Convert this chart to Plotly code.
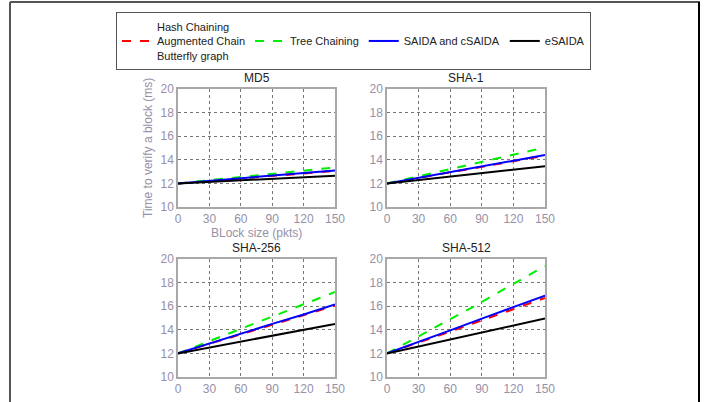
import plotly.graph_objects as go

W, H = 717, 402

block_sizes = [0, 30, 60, 90, 120, 150]
panel_titles = ["MD5", "SHA-1", "SHA-256", "SHA-512"]
series_names = ["Hash Chaining<br>Augmented Chain<br>Butterfly graph", "Tree Chaining",
                "SAIDA and cSAIDA", "eSAIDA"]

md5_hash = [12, 12.2, 12.4, 12.62, 12.83, 13.05]
md5_tree = [12, 12.27, 12.55, 12.8, 13.08, 13.35]
md5_saida = [12, 12.22, 12.44, 12.66, 12.88, 13.1]
md5_esaida = [12, 12.13, 12.26, 12.4, 12.52, 12.65]

sha1_hash = [12, 12.45, 12.93, 13.4, 13.88, 14.35]
sha1_tree = [12, 12.6, 13.2, 13.85, 14.45, 15.05]
sha1_saida = [12, 12.48, 12.96, 13.44, 13.92, 14.4]
sha1_esaida = [12, 12.3, 12.6, 12.88, 13.16, 13.45]

sha256_hash = [12, 12.8, 13.6, 14.45, 15.25, 16.05]
sha256_tree = [12, 13.05, 14.1, 15.1, 16.15, 17.2]
sha256_saida = [12, 12.85, 13.65, 14.5, 15.3, 16.15]
sha256_esaida = [12, 12.5, 13.0, 13.5, 14.0, 14.5]

sha512_hash = [12, 12.9, 13.85, 14.8, 15.75, 16.7]
sha512_tree = [12, 13.45, 14.9, 16.35, 17.9, 19.4]
sha512_saida = [12, 12.95, 13.95, 14.95, 15.9, 16.9]
sha512_esaida = [12, 12.6, 13.2, 13.8, 14.35, 14.95]

panels = [
    [md5_hash, md5_tree, md5_saida, md5_esaida],
    [sha1_hash, sha1_tree, sha1_saida, sha1_esaida],
    [sha256_hash, sha256_tree, sha256_saida, sha256_esaida],
    [sha512_hash, sha512_tree, sha512_saida, sha512_esaida],
]

colors = ["#ff0000", "#00ee00", "#0000ff", "#000000"]
dashes = ["dash", "dash", "solid", "solid"]

# pixel boxes of the four axes (left, right, top, bottom)
boxes = [(178, 335, 89, 207), (387, 545, 89, 207),
         (178, 335, 259, 377), (387, 545, 259, 377)]

tick_color = "#9690a8"
font_family = "Liberation Sans, Arial, sans-serif"


def legend_label(name):
    # pad single-line labels so every entry is vertically centred in the legend row
    if "<br>" in name:
        return name
    return "\u00a0<br>" + name + "<br>\u00a0"


fig = go.Figure()
layout = dict(
    width=W, height=H,
    margin=dict(l=0, r=0, t=0, b=0, autoexpand=False),
    paper_bgcolor="white", plot_bgcolor="white",
    font=dict(family=font_family, size=12, color="#222"),
    showlegend=True,
    legend=dict(orientation="h", x=116 / W, y=1 - 12 / H, xanchor="left", yanchor="top",
                bordercolor="#555", borderwidth=1, bgcolor="white", valign="middle",
                font=dict(size=11, color="#222"), itemwidth=30,
                tracegroupgap=0),
)

annotations = []
for i, (series, box) in enumerate(zip(panels, boxes)):
    k = "" if i == 0 else str(i + 1)
    l, r, t, b = box
    for j, vals in enumerate(series):
        fig.add_trace(go.Scatter(
            x=block_sizes, y=vals, mode="lines",
            name=legend_label(series_names[j]), showlegend=(i == 0),
            line=dict(color=colors[j], dash=dashes[j], width=2),
            xaxis="x" + k, yaxis="y" + k,
        ))
    axcommon = dict(showgrid=True, gridcolor="#777", griddash="dot", gridwidth=1,
                    showline=True, mirror=True, linecolor="#a8a8a8", linewidth=1.5,
                    zeroline=False, ticks="",
                    tickfont=dict(size=12, color=tick_color))
    layout["xaxis" + k] = dict(domain=[l / W, r / W], range=[0, 150], dtick=30, tick0=0,
                               anchor="y" + k, **axcommon)
    layout["yaxis" + k] = dict(domain=[1 - b / H, 1 - t / H], range=[10, 20], dtick=2,
                               tick0=10, anchor="x" + k, **axcommon)
    annotations.append(dict(text=panel_titles[i], x=(l + r) / 2 / W, y=1 - (t - 11) / H,
                            xref="paper", yref="paper", showarrow=False,
                            font=dict(size=12, color="#222"), yanchor="middle"))

# axis titles (only on the first panel)
annotations.append(dict(text="BLock size (pkts)", x=(178 + 335) / 2 / W, y=1 - 233 / H,
                        xref="paper", yref="paper", showarrow=False, yanchor="middle",
                        font=dict(size=12, color=tick_color)))
annotations.append(dict(text="Time to verify a block (ms)", x=148 / W, y=1 - 148 / H,
                        xref="paper", yref="paper", showarrow=False, textangle=-90,
                        xanchor="center", yanchor="middle",
                        font=dict(size=12, color=tick_color)))

shapes = [
    dict(type="line", xref="paper", yref="paper", x0=10 / W, x1=700 / W, y0=1 - 2 / H, y1=1 - 2 / H,
         line=dict(color="#555", width=2)),
    dict(type="line", xref="paper", yref="paper", x0=10 / W, x1=10 / W, y0=0, y1=1 - 2 / H,
         line=dict(color="#555", width=2)),
    dict(type="line", xref="paper", yref="paper", x0=699 / W, x1=699 / W, y0=0, y1=1 - 2 / H,
         line=dict(color="#000", width=2)),
]
layout["annotations"] = annotations
layout["shapes"] = shapes
fig.update_layout(**layout)
fig.write_html("out.html")
